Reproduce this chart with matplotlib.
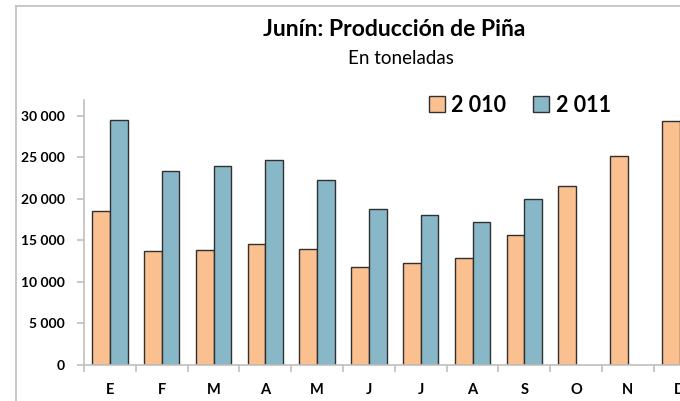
import numpy as np
import matplotlib
matplotlib.use("Agg")
from matplotlib import pyplot as plt
from matplotlib.lines import Line2D

months = ['E', 'F', 'M', 'A', 'M', 'J', 'J', 'A', 'S', 'O', 'N', 'D']
prod_2010 = [18500, 13700, 13800, 14600, 14000, 11800, 12300, 12900, 15700, 21500, 25200, 29400]
prod_2011 = [29500, 23400, 24000, 24700, 22300, 18800, 18000, 17200, 20000, np.nan, np.nan, np.nan]
yticks = [0, 5000, 10000, 15000, 20000, 25000, 30000]
ytick_labels = ['0', '5 000', '10 000', '15 000', '20 000', '25 000', '30 000']

c2010 = '#FAC090'
c2011 = '#88B8C8'
grey = '#BFBFBF'

plt.rcParams['font.family'] = ['Lato', 'DejaVu Sans']

fig = plt.figure(figsize=(6.8, 4.01), dpi=100)
# axes runs past the right edge, like the cropped original
ax = fig.add_axes([84 / 680, 1 - 365 / 401, 621.6 / 680, 265 / 401])

x = np.arange(len(months))
w = 0.34
ax.bar(x - w / 2, prod_2010, w, color=c2010, edgecolor='#303030', linewidth=1.0, label='2 010')
ax.bar(x + w / 2, prod_2011, w, color=c2011, edgecolor='#303030', linewidth=1.0, label='2 011')

ax.set_xlim(-0.5, len(months) - 0.5)
ax.set_ylim(0, 31900)

for s in ['top', 'right']:
    ax.spines[s].set_visible(False)
for s in ['left', 'bottom']:
    ax.spines[s].set_color(grey)
    ax.spines[s].set_linewidth(1.2)

ax.set_yticks(yticks)
ax.set_yticklabels(ytick_labels, fontsize=10, fontweight='bold')
ax.tick_params(axis='y', direction='out', length=5, color=grey, width=1.2, pad=9)

ax.set_xticks(x)
ax.set_xticklabels(months, fontsize=10.5, fontweight='bold')
ax.tick_params(axis='x', which='major', length=0, pad=13)
ax.set_xticks(np.arange(len(months) + 1) - 0.5, minor=True)
ax.tick_params(axis='x', which='minor', direction='out', length=5, color=grey, width=1.2)

leg = ax.legend(loc='upper left', ncol=2, frameon=False, fontsize=15.5,
                handlelength=0.75, handleheight=0.75,
                handletextpad=0.3, columnspacing=1.25, borderaxespad=0)
leg.set_bbox_to_anchor((420 / 680, 1 - 86 / 401), transform=fig.transFigure)
for t in leg.get_texts():
    t.set_fontweight('bold')

fig.text(394 / 680, 1 - 30 / 401, 'Junín: Producción de Piña', ha='center', va='center',
         fontsize=16.5, fontweight='bold')
fig.text(401 / 680, 1 - 58 / 401, 'En toneladas', ha='center', va='center', fontsize=13.5)

# chart area border (left and top visible)
fig.add_artist(Line2D([15.5 / 680, 15.5 / 680], [0, 1 - 6 / 401], color=grey, linewidth=1.2))
fig.add_artist(Line2D([15.5 / 680, 1], [1 - 6 / 401, 1 - 6 / 401], color=grey, linewidth=1.2))

fig.savefig('out.png', dpi=100)
